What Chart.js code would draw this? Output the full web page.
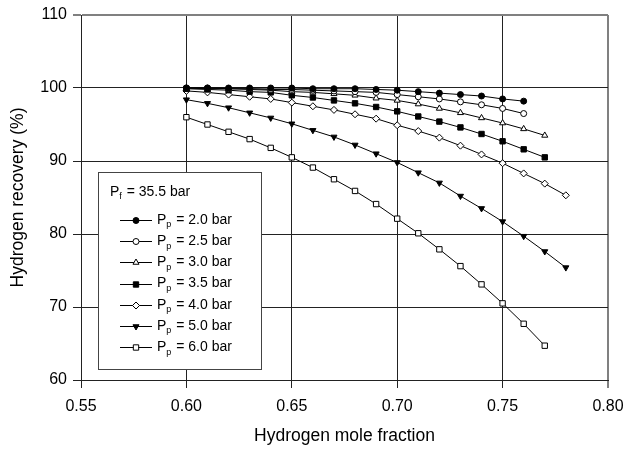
<!DOCTYPE html>
<html>
<head>
<meta charset="utf-8">
<script src="https://cdn.jsdelivr.net/npm/chart.js@4.4.1/dist/chart.umd.min.js"></script>
<style>
body{margin:0;background:#fff;}
#wrap{width:625px;height:450px;}
</style>
</head>
<body>
<div id="wrap"><canvas id="c" width="625" height="450"></canvas></div>
<script>
// hydrogen mole fraction (x) for each curve
const xLong=[0.60,0.61,0.62,0.63,0.64,0.65,0.66,0.67,0.68,0.69,0.70,0.71,0.72,0.73,0.74,0.75,0.76,0.77,0.78];
const xTicks=[0.55,0.60,0.65,0.70,0.75,0.80];
const yTicks=[60,70,80,90,100,110];

// hydrogen recovery (%)
const pp20=[100,100,100,100,100,100,99.9,99.9,99.9,99.8,99.7,99.5,99.3,99.1,98.9,98.5,98.2];
const pp25=[100,100,99.9,99.9,99.8,99.8,99.7,99.6,99.5,99.4,99.1,98.8,98.5,98.1,97.7,97.2,96.5];
const pp30=[100,99.9,99.9,99.8,99.7,99.5,99.4,99.2,99.0,98.6,98.3,97.8,97.2,96.6,95.9,95.2,94.4,93.5];
const pp35=[99.9,99.8,99.7,99.5,99.4,99.0,98.7,98.3,97.9,97.4,96.8,96.1,95.4,94.6,93.7,92.7,91.6,90.5];
const pp40=[99.6,99.4,99.1,98.8,98.5,98.0,97.5,97.0,96.4,95.8,94.9,94.1,93.2,92.1,90.9,89.7,88.3,86.9,85.3];
const pp50=[98.4,97.9,97.3,96.6,95.9,95.1,94.2,93.3,92.2,91.0,89.8,88.4,87.0,85.2,83.5,81.7,79.7,77.6,75.4];
const pp60=[96.0,95.0,94.0,93.0,91.8,90.5,89.1,87.5,85.9,84.1,82.1,80.1,77.9,75.6,73.1,70.5,67.7,64.7];

const seriesLabels=['2.0','2.5','3.0','3.5','4.0','5.0','6.0'];
const seriesVals=[pp20,pp25,pp30,pp35,pp40,pp50,pp60];
const markers=[
  {style:'circle',fill:'#000',r:3,rot:0},
  {style:'circle',fill:'#fff',r:3,rot:0},
  {style:'triangle',fill:'#fff',r:3.5,rot:0},
  {style:'rect',fill:'#000',r:3.8,rot:0},
  {style:'rectRot',fill:'#fff',r:3.5,rot:0},
  {style:'triangle',fill:'#000',r:3.5,rot:180},
  {style:'rect',fill:'#fff',r:3.8,rot:0}
];

const FONT="'Liberation Sans', Arial, sans-serif";

const datasets=seriesVals.map((vals,i)=>({
  label:'Pp = '+seriesLabels[i]+' bar',
  data:vals.map((v,j)=>({x:xLong[j],y:v})),
  borderColor:'#000',
  borderWidth:1,
  pointStyle:markers[i].style,
  pointRotation:markers[i].rot,
  pointRadius:markers[i].r,
  pointBackgroundColor:markers[i].fill,
  pointBorderColor:'#000',
  pointBorderWidth:1,
  tension:0,
  fill:false
}));

function drawMarker(ctx,m,x,y){
  ctx.save();
  ctx.translate(x,y);
  ctx.rotate(m.rot*Math.PI/180);
  ctx.beginPath();
  const r=m.r;
  if(m.style==='circle'){ctx.arc(0,0,r,0,Math.PI*2);}
  else if(m.style==='rect'){const s=r*Math.SQRT1_2;ctx.rect(-s,-s,2*s,2*s);}
  else if(m.style==='rectRot'){ctx.moveTo(0,-r);ctx.lineTo(r,0);ctx.lineTo(0,r);ctx.lineTo(-r,0);ctx.closePath();}
  else if(m.style==='triangle'){
    ctx.moveTo(0,-r);
    ctx.lineTo(r*Math.cos(Math.PI/6),r*0.5);
    ctx.lineTo(-r*Math.cos(Math.PI/6),r*0.5);
    ctx.closePath();
  }
  ctx.fillStyle=m.fill;ctx.fill();
  ctx.lineWidth=1;ctx.strokeStyle='#000';ctx.stroke();
  ctx.restore();
}

function subText(ctx,x,y,sub,rest){
  ctx.font='14px '+FONT;
  ctx.fillText('P',x,y);
  let w=ctx.measureText('P').width;
  ctx.font='9px '+FONT;
  ctx.fillText(sub,x+w,y+5);
  w+=ctx.measureText(sub).width+1;
  ctx.font='14px '+FONT;
  ctx.fillText(rest,x+w,y);
}

const legendBox={
  id:'legendBox',
  afterDatasetsDraw(chart){
    const ctx=chart.ctx;
    ctx.save();
    ctx.fillStyle='#fff';
    ctx.fillRect(98,172,163,197);
    ctx.strokeStyle='#444';
    ctx.lineWidth=1;
    ctx.strokeRect(98.5,172.5,163,197);
    ctx.fillStyle='#000';
    ctx.textBaseline='middle';
    subText(ctx,110,192,'f',' = 35.5 bar');
    seriesLabels.forEach((lab,i)=>{
      const y=220+i*21.2;
      ctx.beginPath();
      ctx.moveTo(120,Math.round(y)+0.5);ctx.lineTo(152,Math.round(y)+0.5);
      ctx.strokeStyle='#000';ctx.lineWidth=1;ctx.stroke();
      drawMarker(ctx,markers[i],136,Math.round(y)+0.5);
      ctx.fillStyle='#000';
      subText(ctx,157,y,'p',' = '+lab+' bar');
    });
    ctx.restore();
  }
};

const isEdge=(v,e)=>Math.abs(v-e)<1e-6;

new Chart(document.getElementById('c'),{
  type:'line',
  data:{datasets},
  options:{
    responsive:false,
    animation:false,
    devicePixelRatio:1,
    layout:{padding:{top:15,right:17,left:0,bottom:0}},
    plugins:{legend:{display:false},tooltip:{enabled:false}},
    scales:{
      x:{
        type:'linear',
        min:xTicks[0],max:xTicks[xTicks.length-1],
        afterBuildTicks(s){s.ticks=xTicks.map(v=>({value:v}));},
        afterFit(s){s.height=70;s.paddingLeft=0;s.paddingRight=0;},
        ticks:{color:'#000',font:{family:FONT,size:16},padding:9,callback:v=>Number(v).toFixed(2),maxRotation:0},
        grid:{
          color:c=>c.tick&&isEdge(c.tick.value,0.80)?'#808080':'#222',
          lineWidth:c=>c.tick&&isEdge(c.tick.value,0.80)?2:1,
          tickLength:8
        },
        border:{display:true,color:'#222',width:1},
        title:{display:true,text:'Hydrogen mole fraction',color:'#000',font:{family:FONT,size:17.5},padding:{top:4,bottom:3}}
      },
      y:{
        min:yTicks[0],max:yTicks[yTicks.length-1],
        afterBuildTicks(s){s.ticks=yTicks.map(v=>({value:v}));},
        afterFit(s){s.width=81;s.paddingTop=0;s.paddingBottom=0;},
        ticks:{color:'#000',font:{family:FONT,size:16},padding:6},
        grid:{
          color:c=>c.tick&&c.tick.value===110?'#808080':'#222',
          lineWidth:c=>c.tick&&c.tick.value===110?2:1,
          tickLength:8
        },
        border:{display:true,color:'#222',width:1},
        title:{display:true,text:'Hydrogen recovery (%)',color:'#000',font:{family:FONT,size:17.5},padding:{top:8,bottom:4}}
      }
    }
  },
  plugins:[legendBox]
});
</script>
</body>
</html>
